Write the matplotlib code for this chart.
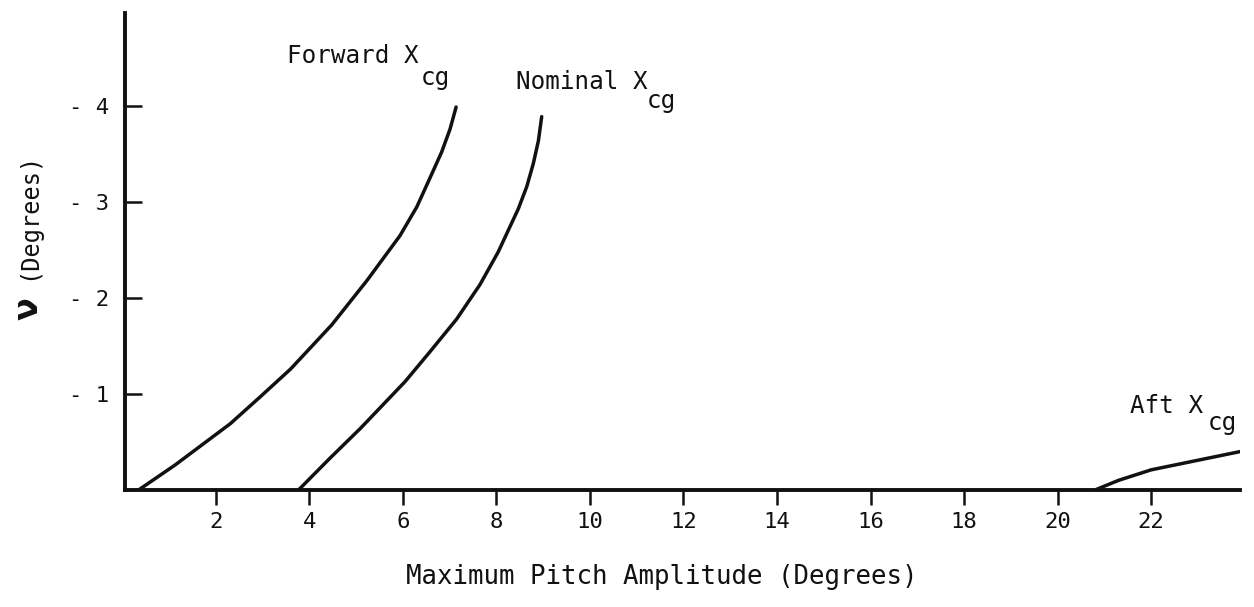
import matplotlib
matplotlib.use("Agg")
import matplotlib.pyplot as plt

# values
fwd_x = [0.35, 1.13, 2.31, 2.95, 3.60, 4.48, 5.23, 5.94, 6.30, 6.58, 6.83, 7.01, 7.14]
fwd_y = [0.0, 0.26, 0.69, 0.97, 1.26, 1.72, 2.18, 2.65, 2.95, 3.25, 3.52, 3.76, 3.99]

nom_x = [3.77, 4.44, 5.09, 6.05, 6.58, 7.15, 7.65, 8.04, 8.25, 8.47, 8.65, 8.79, 8.90, 8.97]
nom_y = [0.0, 0.33, 0.64, 1.13, 1.44, 1.78, 2.14, 2.48, 2.70, 2.93, 3.16, 3.40, 3.64, 3.89]

aft_x = [20.8, 21.3, 22.0, 23.0, 23.9]
aft_y = [0.0, 0.10, 0.21, 0.31, 0.40]

xticks = [2, 4, 6, 8, 10, 12, 14, 16, 18, 20, 22]
yticks = [1, 2, 3, 4]
ytick_labels = ["- 1", "- 2", "- 3", "- 4"]

mono = "DejaVu Sans Mono"
ink = "#111111"

fig = plt.figure(figsize=(12.54, 6.07), dpi=100)
W, H = 1254, 607
ax = fig.add_axes([124.5 / W, (H - 490) / H, (1240 - 124.5) / W, 477 / H])

for xs, ys in [(fwd_x, fwd_y), (nom_x, nom_y), (aft_x, aft_y)]:
    ax.plot(xs, ys, color=ink, lw=2.5, solid_capstyle="round", solid_joinstyle="round")

ax.set_xlim(0.05, 23.9)
ax.set_ylim(0, 4.97)

for s in ["top", "right"]:
    ax.spines[s].set_visible(False)
for s in ["left", "bottom"]:
    ax.spines[s].set_linewidth(2.8)
    ax.spines[s].set_color(ink)

ax.set_xticks(xticks)
ax.set_xticklabels([str(t) for t in xticks], fontfamily=mono, fontsize=16)
ax.set_yticks(yticks)
ax.set_yticklabels(ytick_labels, fontfamily=mono, fontsize=16)
ax.tick_params(axis="x", direction="out", length=11, width=1.8, pad=5, colors=ink)
ax.tick_params(axis="y", direction="in", length=12, width=1.8, pad=11, colors=ink)

ax.set_xlabel("Maximum Pitch Amplitude (Degrees)", fontfamily=mono, fontsize=18.5, color=ink)
ax.xaxis.set_label_coords((662 - 124.5) / (1240 - 124.5), -0.155)

# y label: nu symbol plus unit
fig.text(28 / W, 1 - 309 / H, "ν", rotation=90, ha="center", va="center",
         fontsize=24, fontweight="bold", fontfamily="DejaVu Sans", color=ink)
fig.text(28 / W, 1 - 216 / H, "(Degrees)", rotation=90, ha="center", va="center",
         fontsize=17, fontfamily=mono, color=ink)

# curve labels (text + subscript)
def label(x, y, main, sx, sy):
    fig.text(x / W, 1 - y / H, main, ha="left", va="baseline",
             fontsize=17.5, fontfamily=mono, color=ink)
    fig.text(sx / W, 1 - sy / H, "cg", ha="left", va="baseline",
             fontsize=17.5, fontfamily=mono, color=ink)

label(287, 63, "Forward X", 421, 85)
label(516, 89, "Nominal X", 647, 108)
label(1130, 413, "Aft X", 1208, 430)

fig.savefig("out.png", dpi=100, facecolor="white")
